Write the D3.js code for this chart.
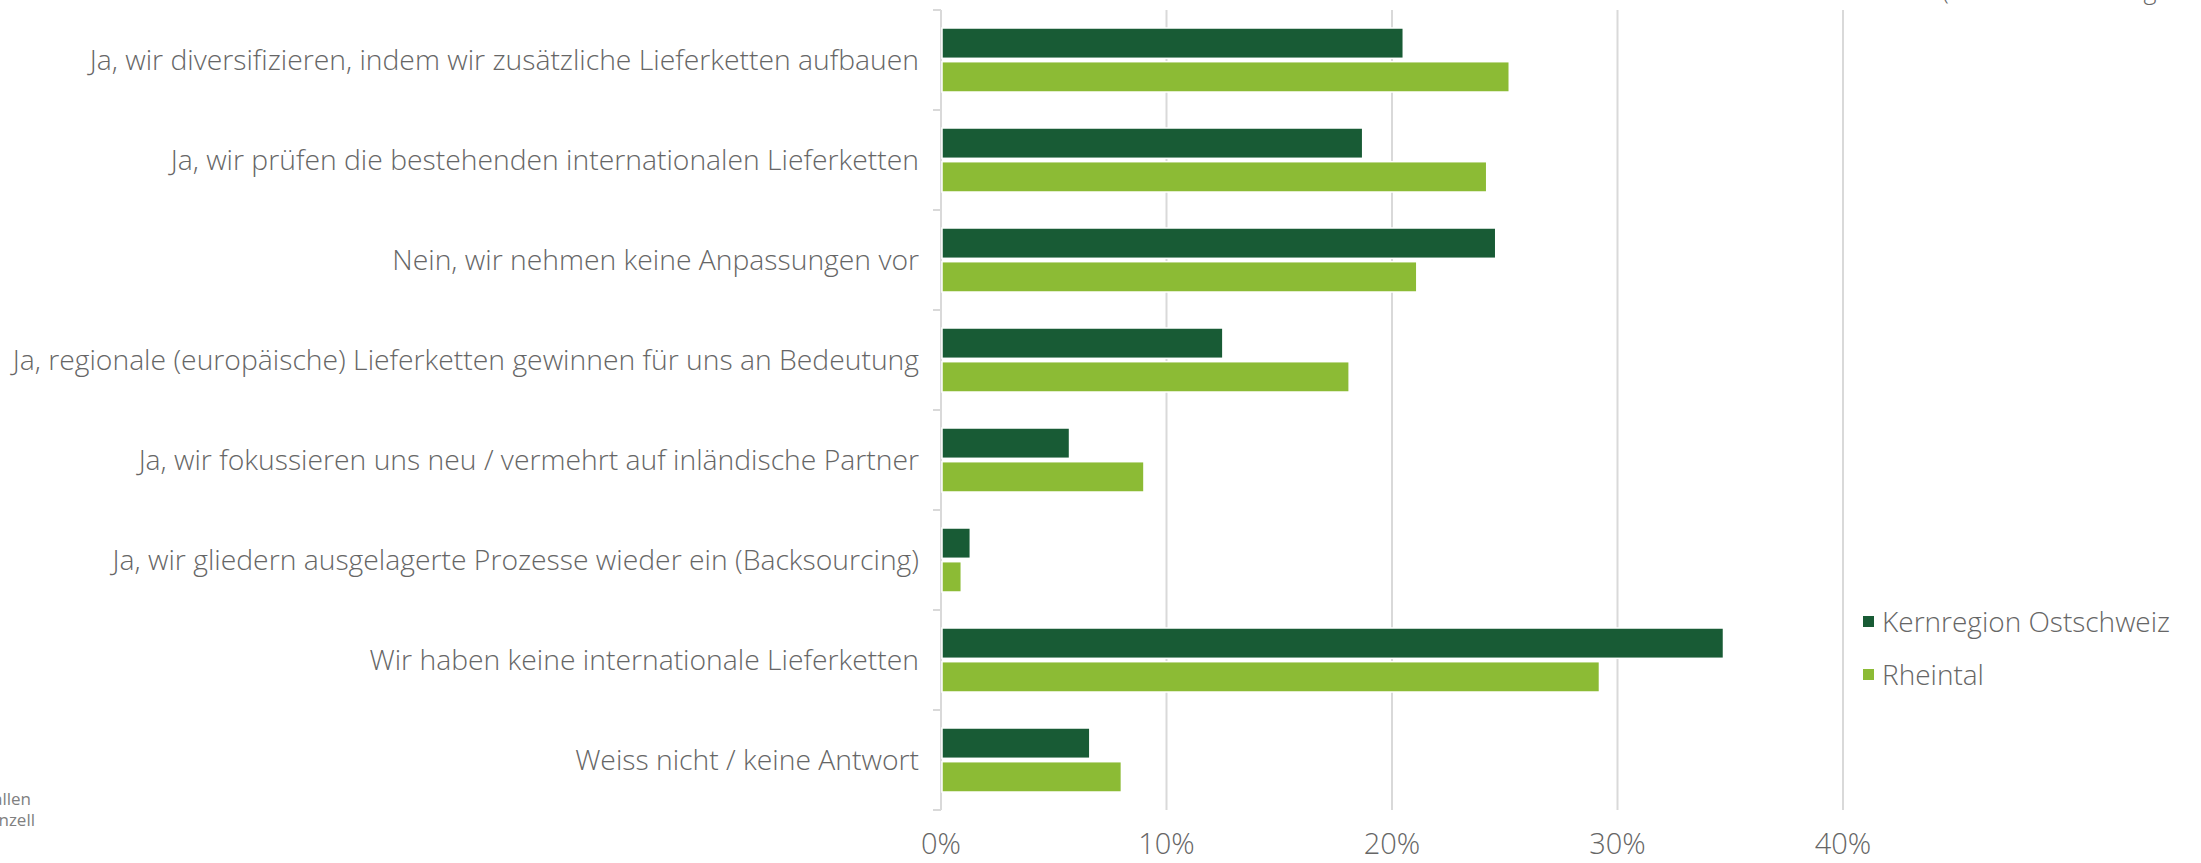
<!DOCTYPE html>
<html>
<head>
<meta charset="utf-8">
<script src="https://cdn.jsdelivr.net/npm/d3@7"></script>
<style>
  html, body { margin: 0; padding: 0; background: #fff; overflow: hidden; }
  svg { display: block; font-family: "Open Sans", "Noto Sans", sans-serif; }
</style>
</head>
<body>
<svg id="chart" width="2201" height="863"></svg>
<script>
const categories = [
  "Ja, wir diversifizieren, indem wir zusätzliche Lieferketten aufbauen",
  "Ja, wir prüfen die bestehenden internationalen Lieferketten",
  "Nein, wir nehmen keine Anpassungen vor",
  "Ja, regionale (europäische) Lieferketten gewinnen für uns an Bedeutung",
  "Ja, wir fokussieren uns neu / vermehrt auf inländische Partner",
  "Ja, wir gliedern ausgelagerte Prozesse wieder ein (Backsourcing)",
  "Wir haben keine internationale Lieferketten",
  "Weiss nicht / keine Antwort"
];
const seriesNames = ["Kernregion Ostschweiz", "Rheintal"];
const kernregion = [20.5, 18.7, 24.6, 12.5, 5.7, 1.3, 34.7, 6.6];
const rheintal   = [25.2, 24.2, 21.1, 18.1, 9.0, 0.9, 29.2, 8.0];
const xTicks = [0, 10, 20, 30, 40];
const colors = ["#185B35", "#8CBB35"];
const noteTop = "(Mehrfachnennungen möglich)";
const sourceLines = ["St.Gallen", "Appenzell"];

const svg = d3.select("#chart");
const pLeft = 941, pRight = 1843, pTop = 10, pBottom = 810;

const x = d3.scaleLinear().domain([0, 40]).range([pLeft, pRight]);
const y0 = d3.scaleBand().domain(d3.range(categories.length)).range([pTop, pBottom]).padding(0);
const y1 = d3.scaleBand().domain([0, 1]).range([18, 82]).paddingInner(0.1);

const grid = "#d9d9d9";
const textCol = "#666666";

// gridlines
svg.append("g").selectAll("line").data(xTicks.filter(d => d > 0)).join("line")
  .attr("x1", d => x(d)).attr("x2", d => x(d))
  .attr("y1", pTop).attr("y2", pBottom)
  .attr("stroke", grid).attr("stroke-width", 2);

// category axis with ticks
const yAxis = svg.append("g");
yAxis.append("line").attr("x1", pLeft).attr("x2", pLeft).attr("y1", pTop).attr("y2", pBottom)
  .attr("stroke", grid).attr("stroke-width", 2);
yAxis.selectAll("line.tk").data(d3.range(categories.length + 1)).join("line").attr("class", "tk")
  .attr("x1", pLeft - 8).attr("x2", pLeft)
  .attr("y1", i => pTop + i * y0.step()).attr("y2", i => pTop + i * y0.step())
  .attr("stroke", grid).attr("stroke-width", 2);

// category labels
svg.append("g").selectAll("text").data(categories).join("text")
  .attr("x", 919)
  .attr("y", (d, i) => y0(i) + y0.bandwidth() / 2)
  .attr("dy", "0.36em")
  .attr("text-anchor", "end")
  .attr("font-size", 28.3)
  .attr("font-weight", 300)
  .attr("fill", textCol)
  .text(d => d);

// bars
const seriesData = [kernregion, rheintal];
const groups = svg.append("g").selectAll("g").data(categories).join("g")
  .attr("transform", (d, i) => `translate(0,${y0(i)})`);
groups.selectAll("rect").data((d, i) => seriesData.map((s, k) => ({ k, v: s[i] }))).join("rect")
  .attr("x", x(0) + 1)
  .attr("y", d => y1(d.k))
  .attr("width", d => x(d.v) - x(0) - 1)
  .attr("height", y1.bandwidth())
  .attr("fill", d => colors[d.k])
  .attr("stroke", "#fff").attr("stroke-width", 1.5);

// x tick labels
svg.append("g").selectAll("text").data(xTicks).join("text")
  .attr("x", d => x(d))
  .attr("y", 854)
  .attr("text-anchor", "middle")
  .attr("font-size", 29)
  .attr("font-weight", 300)
  .attr("fill", textCol)
  .text(d => d + "%");

// legend
const lg = svg.append("g").selectAll("g").data(seriesNames).join("g")
  .attr("transform", (d, i) => `translate(1863,${622 + i * 53})`);
lg.append("rect").attr("x", 0).attr("y", -6).attr("width", 11).attr("height", 11)
  .attr("fill", (d, i) => colors[i]);
lg.append("text").attr("x", 19).attr("y", 0).attr("dy", "0.36em")
  .attr("font-size", 28).attr("font-weight", 300).attr("fill", textCol)
  .text(d => d);

// cut-off note top right
svg.append("text").attr("x", 1942).attr("y", -1)
  .attr("font-size", 25).attr("font-weight", 300).attr("fill", textCol)
  .text(noteTop);

// cut-off source bottom left
svg.append("g").selectAll("text").data(sourceLines).join("text")
  .attr("x", (d, i) => i === 0 ? 31 : 35)
  .attr("y", (d, i) => 805 + i * 21)
  .attr("text-anchor", "end")
  .attr("font-size", 17).attr("fill", "#808080")
  .text(d => d);
</script>
</body>
</html>
